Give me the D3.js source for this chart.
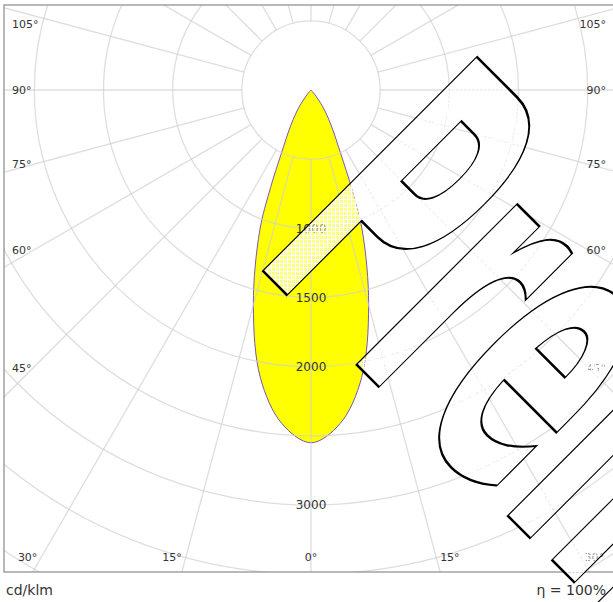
<!DOCTYPE html>
<html>
<head>
<meta charset="utf-8">
<script src="https://cdn.jsdelivr.net/npm/d3@7"></script>
<style>
  html, body { margin: 0; padding: 0; background: #fff; }
  svg { display: block; font-family: "DejaVu Sans", Verdana, sans-serif; }
</style>
</head>
<body>
<div id="chart"></div>
<script>
// luminous intensity curve (C0-C180 plane), symmetric, in cd/klm
const lobeAngles = [0, 5, 10, 15, 20, 22.5, 25, 30, 35, 40, 45];
const lobeValues = [2550, 2420, 2110, 1610, 1085, 765, 510, 285, 150, 40, 0];

const ringValues = [500, 1000, 1500, 2000, 2500, 3000, 3500, 4000, 4500];
const ringLabels = [1000, 1500, 2000, 3000];
const spokeAngles = d3.range(0, 360, 15);
const sideLabels = [105, 90, 75, 60, 45];
const bottomLabels = [30, 15, 0];

const width = 613, height = 602;
const cx = 311, cy = 90;
const frame = { x0: 4, y0: 5, x1: 618, y1: 572 };

const r = d3.scaleLinear().domain([0, 3000]).range([0, 415]);
const rad = d => d * Math.PI / 180;

const svg = d3.select("#chart")
  .append("svg")
  .attr("width", width)
  .attr("height", height);

const defs = svg.append("defs");

defs.append("clipPath")
  .attr("id", "frameClip")
  .append("rect")
  .attr("x", frame.x0)
  .attr("y", frame.y0)
  .attr("width", frame.x1 - frame.x0)
  .attr("height", frame.y1 - frame.y0);

// lobe, mirrored around 0 deg
const pts = [];
for (let i = lobeAngles.length - 1; i > 0; i--) pts.push([Math.PI + rad(lobeAngles[i]), lobeValues[i]]);
for (let i = 0; i < lobeAngles.length; i++) pts.push([Math.PI - rad(lobeAngles[i]), lobeValues[i]]);

const lobe = d3.lineRadial()
  .angle(d => d[0])
  .radius(d => r(d[1]))
  .curve(d3.curveCatmullRom.alpha(0.5));

const plot = svg.append("g")
  .attr("clip-path", "url(#frameClip)");

const inner = plot.append("g")
  .attr("transform", `translate(${cx},${cy})`);

inner.append("path")
  .attr("d", lobe(pts) + "Z")
  .attr("fill", "#ffff00")
  .attr("stroke", "#7a55b8")
  .attr("stroke-width", 1);

// grid
const grid = inner.append("g")
  .attr("fill", "none")
  .attr("stroke", "#d0d0d0")
  .attr("stroke-opacity", 0.7)
  .attr("stroke-width", 1.3);

grid.selectAll("circle")
  .data(ringValues)
  .join("circle")
  .attr("r", d => r(d));

grid.selectAll("line")
  .data(spokeAngles)
  .join("line")
  .attr("x1", d => r(500) * Math.sin(rad(d)))
  .attr("y1", d => r(500) * Math.cos(rad(d)))
  .attr("x2", d => r(6000) * Math.sin(rad(d)))
  .attr("y2", d => r(6000) * Math.cos(rad(d)));

inner.selectAll("text.ring")
  .data(ringLabels)
  .join("text")
  .attr("class", "ring")
  .attr("x", 0)
  .attr("y", d => r(d))
  .attr("dy", "0.35em")
  .attr("text-anchor", "middle")
  .attr("font-size", 12)
  .attr("fill", "#333")
  .text(d => d);

// angle labels
const sideY = a => Math.max(frame.y0 + 19, cy + (cx - 33) / Math.tan(rad(a)));
const angleText = svg.append("g")
  .attr("font-size", 11)
  .attr("fill", "#333");

angleText.selectAll("text.left")
  .data(sideLabels)
  .join("text")
  .attr("x", 12)
  .attr("y", d => sideY(d))
  .attr("dy", "0.35em")
  .text(d => d + "°");

angleText.selectAll("text.right")
  .data(sideLabels)
  .join("text")
  .attr("x", 606)
  .attr("y", d => sideY(d))
  .attr("dy", "0.35em")
  .attr("text-anchor", "end")
  .text(d => d + "°");

const bottomY = 557;
const bottomX = a => (bottomY - cy) * Math.tan(rad(a)) + 4;
bottomLabels.forEach(a => {
  [-1, 1].forEach(s => {
    if (a === 0 && s === 1) return;
    angleText.append("text")
      .attr("x", a === 0 ? cx : cx + s * bottomX(a))
      .attr("y", bottomY)
      .attr("dy", "0.35em")
      .attr("text-anchor", a === 0 ? "middle" : (s < 0 ? "end" : "start"))
      .text(a + "°");
  });
});

// frame
svg.append("rect")
  .attr("x", frame.x0)
  .attr("y", frame.y0)
  .attr("width", frame.x1 - frame.x0)
  .attr("height", frame.y1 - frame.y0)
  .attr("fill", "none")
  .attr("stroke", "#8a8a8a")
  .attr("stroke-width", 1.2);

svg.append("text")
  .attr("x", 6)
  .attr("y", 595)
  .attr("font-size", 14)
  .attr("fill", "#333")
  .text("cd/klm");

svg.append("text")
  .attr("x", 606)
  .attr("y", 595)
  .attr("font-size", 14)
  .attr("fill", "#333")
  .attr("text-anchor", "end")
  .text("η = 100%");

// "Preliminary" stamp
const sx = 0.44;
const stamp = defs.append("pattern")
  .attr("id", "hatch")
  .attr("patternUnits", "userSpaceOnUse")
  .attr("width", 4)
  .attr("height", 4)
  .attr("patternTransform", `scale(${1 / sx},1) rotate(-45)`);
stamp.append("rect")
  .attr("width", 4)
  .attr("height", 4)
  .attr("fill", "#fff")
  .attr("fill-opacity", 0.5);
stamp.append("path")
  .attr("d", "M0,0.5H4M0.5,0V4")
  .attr("stroke", "#fff")
  .attr("stroke-opacity", 0.95)
  .attr("stroke-width", 1);

svg.append("text")
  .attr("transform", `translate(251,259) rotate(45) scale(${sx},1)`)
  .attr("font-size", 415)
  .attr("font-weight", "bold")
  .attr("fill", "url(#hatch)")
  .attr("stroke", "#000")
  .attr("stroke-width", 2)
  .attr("vector-effect", "non-scaling-stroke")
  .text("Preliminary");
</script>
</body>
</html>
